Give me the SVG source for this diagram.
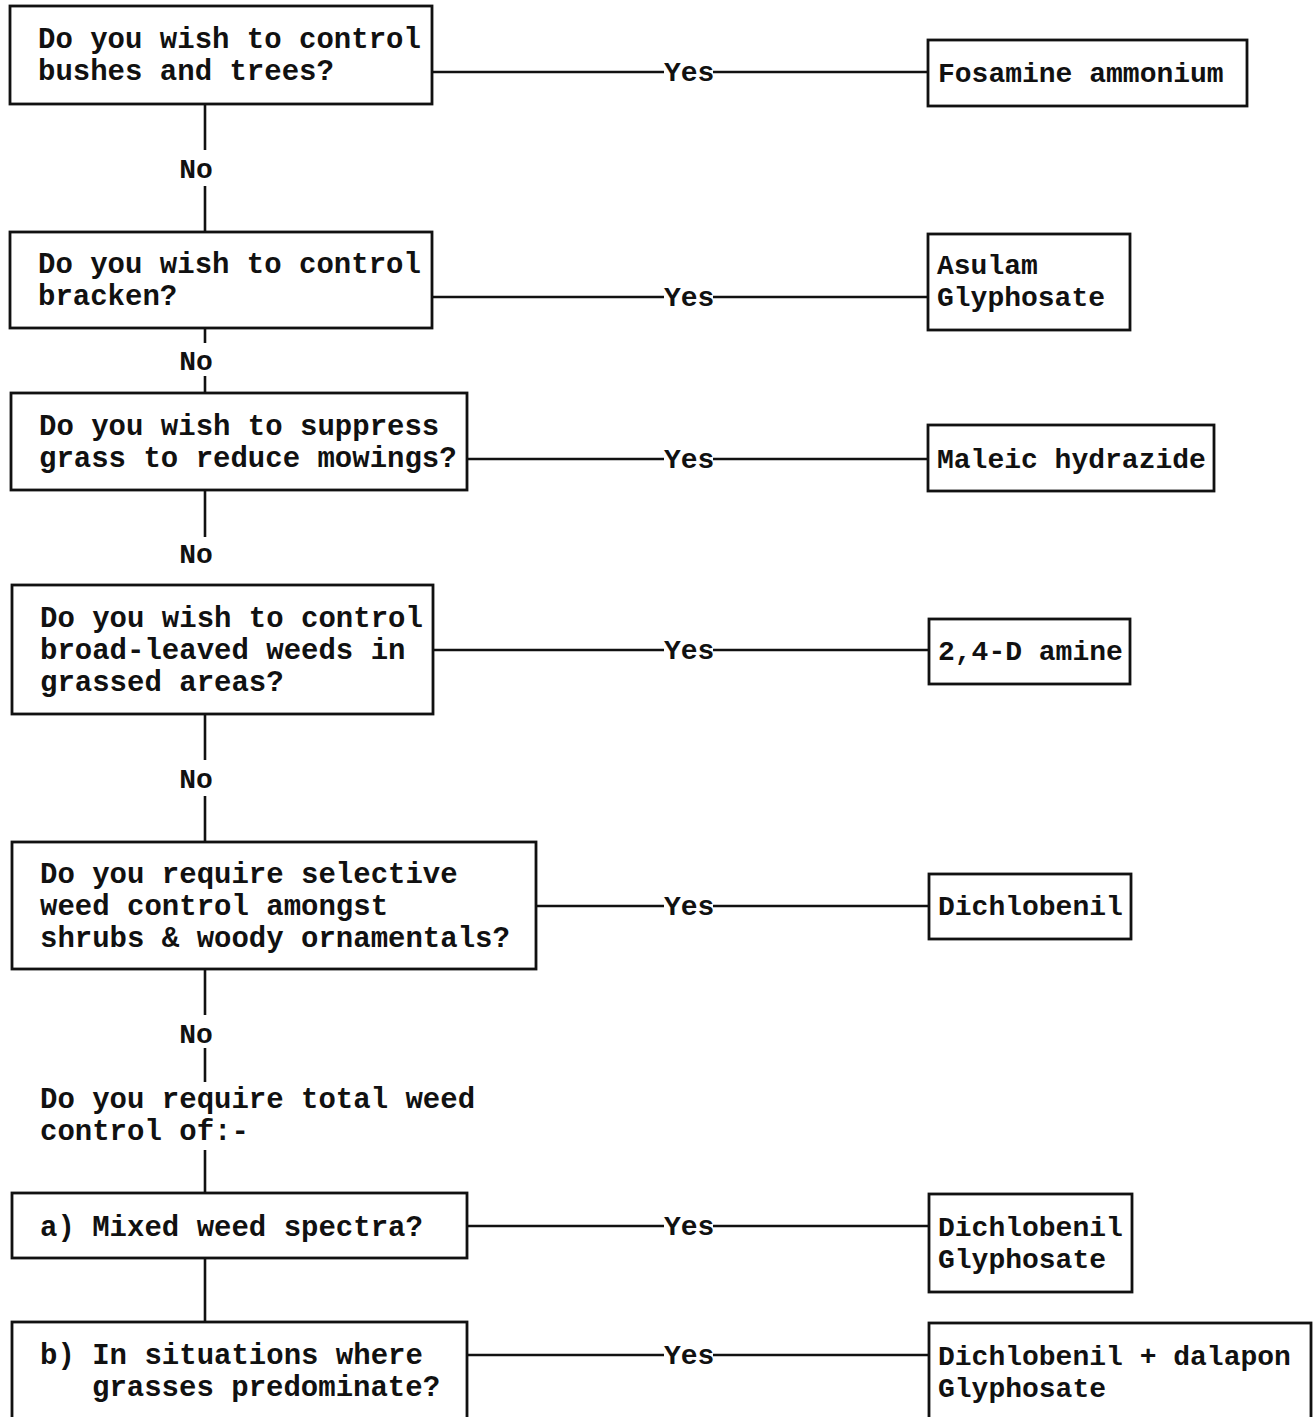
<svg xmlns="http://www.w3.org/2000/svg" width="1313" height="1417" viewBox="0 0 1313 1417">
<style>
.box{fill:#fff;stroke:#111;stroke-width:2.8}
.ln{stroke:#111;stroke-width:2.6;fill:none}
text{font-family:"Liberation Mono","Courier New",monospace;font-weight:bold;fill:#111}
.q{font-size:29px}
.a{font-size:28px}
.lbl{font-size:28px}
</style>
<rect width="1313" height="1417" fill="#fff"/>
<g id="connectors">
<path class="ln" d="M205 104V150M205 186V232M205 328V343M205 376V393M205 490V537M205 714V760M205 796V842M205 969V1015M205 1048V1082M205 1150V1193M205 1258V1322"/>
<path class="ln" d="M432 72H664M713 72H928M432 297H664M713 297H928M467 459H664M713 459H928M433 650H664M713 650H929M536 906H664M713 906H929M467 1226H664M713 1226H929M467 1355H664M713 1355H929"/>
<text class="lbl" x="196" y="178" text-anchor="middle">No</text>
<text class="lbl" x="196" y="370" text-anchor="middle">No</text>
<text class="lbl" x="196" y="563" text-anchor="middle">No</text>
<text class="lbl" x="196" y="788" text-anchor="middle">No</text>
<text class="lbl" x="196" y="1043" text-anchor="middle">No</text>
<text class="lbl" x="664" y="81">Yes</text>
<text class="lbl" x="664" y="306">Yes</text>
<text class="lbl" x="664" y="468">Yes</text>
<text class="lbl" x="664" y="659">Yes</text>
<text class="lbl" x="664" y="915">Yes</text>
<text class="lbl" x="664" y="1235">Yes</text>
<text class="lbl" x="664" y="1364">Yes</text>
</g>
<g id="q1"><rect class="box" x="10" y="6" width="422" height="98"/><text class="q" x="38" y="48">Do you wish to control</text><text class="q" x="38" y="80">bushes and trees?</text></g>
<g id="q2"><rect class="box" x="10" y="232" width="422" height="96"/><text class="q" x="38" y="273">Do you wish to control</text><text class="q" x="38" y="305">bracken?</text></g>
<g id="q3"><rect class="box" x="11" y="393" width="456" height="97"/><text class="q" x="39" y="435">Do you wish to suppress</text><text class="q" x="39" y="467">grass to reduce mowings?</text></g>
<g id="q4"><rect class="box" x="12" y="585" width="421" height="129"/><text class="q" x="40" y="627">Do you wish to control</text><text class="q" x="40" y="659">broad-leaved weeds in</text><text class="q" x="40" y="691">grassed areas?</text></g>
<g id="q5"><rect class="box" x="12" y="842" width="524" height="127"/><text class="q" x="40" y="883">Do you require selective</text><text class="q" x="40" y="915">weed control amongst</text><text class="q" x="40" y="947">shrubs &amp; woody ornamentals?</text></g>
<g id="q6"><text class="q" x="40" y="1108">Do you require total weed</text><text class="q" x="40" y="1140">control of:-</text></g>
<g id="qa"><rect class="box" x="12" y="1193" width="455" height="65"/><text class="q" x="40" y="1236">a) Mixed weed spectra?</text></g>
<g id="qb"><rect class="box" x="12" y="1322" width="455" height="110"/><text class="q" x="40" y="1364">b) In situations where</text><text class="q" x="92" y="1396">grasses predominate?</text></g>
<g id="r1"><rect class="box" x="928" y="40" width="319" height="66"/><text class="a" x="938" y="82">Fosamine ammonium</text></g>
<g id="r2"><rect class="box" x="928" y="234" width="202" height="96"/><text class="a" x="937" y="274">Asulam</text><text class="a" x="937" y="306">Glyphosate</text></g>
<g id="r3"><rect class="box" x="928" y="425" width="286" height="66"/><text class="a" x="937" y="468">Maleic hydrazide</text></g>
<g id="r4"><rect class="box" x="929" y="619" width="201" height="65"/><text class="a" x="938" y="660">2,4-D amine</text></g>
<g id="r5"><rect class="box" x="929" y="874" width="202" height="65"/><text class="a" x="938" y="915">Dichlobenil</text></g>
<g id="r6"><rect class="box" x="929" y="1194" width="203" height="98"/><text class="a" x="938" y="1236">Dichlobenil</text><text class="a" x="938" y="1268">Glyphosate</text></g>
<g id="r7"><rect class="box" x="929" y="1323" width="382" height="110"/><text class="a" x="938" y="1365">Dichlobenil + dalapon</text><text class="a" x="938" y="1397">Glyphosate</text></g>
</svg>
